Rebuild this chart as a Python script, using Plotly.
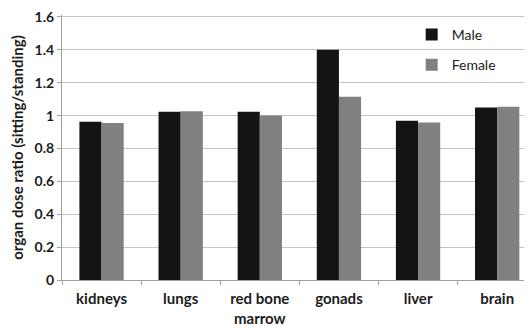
import plotly.graph_objects as go

categories = ["kidneys", "lungs", "red bone<br>marrow", "gonads", "liver", "brain"]
male = [0.962, 1.024, 1.024, 1.40, 0.968, 1.05]
female = [0.955, 1.026, 1.0, 1.114, 0.958, 1.054]
y_ticks = [0, 0.2, 0.4, 0.6, 0.8, 1, 1.2, 1.4, 1.6]
y_tick_labels = ["0", "0.2", "0.4", "0.6", "0.8", "1", "1.2", "1.4", "1.6"]

font_family = "Lato, 'Open Sans', sans-serif"
text_color = "#1c1c1c"

fig = go.Figure()
fig.add_trace(go.Bar(x=categories, y=male, name="Male", marker_color="#141414",
                     marker_line_width=0, legendgroup="m"))
fig.add_trace(go.Bar(x=categories, y=female, name="Female", marker_color="#808080",
                     marker_line_width=0, legendgroup="f"))

fig.update_layout(
    width=524, height=320,
    margin=dict(l=54, r=0, t=7, b=48),
    paper_bgcolor="white", plot_bgcolor="white",
    barmode="group", bargap=0.44, bargroupgap=0,
    font=dict(family=font_family, size=13, color=text_color),
    legend=dict(x=0.744, y=0.985, xanchor="left", yanchor="top",
                bgcolor="rgba(0,0,0,0)", traceorder="grouped", tracegroupgap=9,
                font=dict(size=14, color=text_color),
                itemwidth=30),
    xaxis=dict(range=[-0.5, 5.44], automargin=False,
               showline=True, linecolor="#a0a0a0", linewidth=1,
               ticks="outside", tickson="boundaries", ticklen=4, tickcolor="#a0a0a0",
               tickfont=dict(size=15, family=font_family, weight="bold", color=text_color),
               ticklabelstandoff=5,
               showgrid=False),
    yaxis=dict(range=[0, 1.612], tickvals=y_ticks, ticktext=y_tick_labels, automargin=False,
               ticklabeloverflow="allow",
               showline=True, linecolor="#a0a0a0", linewidth=1,
               ticks="outside", ticklen=4, tickcolor="#a0a0a0",
               gridcolor="#c4c4c4", gridwidth=1,
               tickfont=dict(size=14, family=font_family, weight="bold", color=text_color),
               title=dict(text="organ dose ratio (sitting/standing)",
                          font=dict(size=15, family=font_family, weight="bold", color=text_color),
                          standoff=10)),
)
fig.write_html("out.html")
